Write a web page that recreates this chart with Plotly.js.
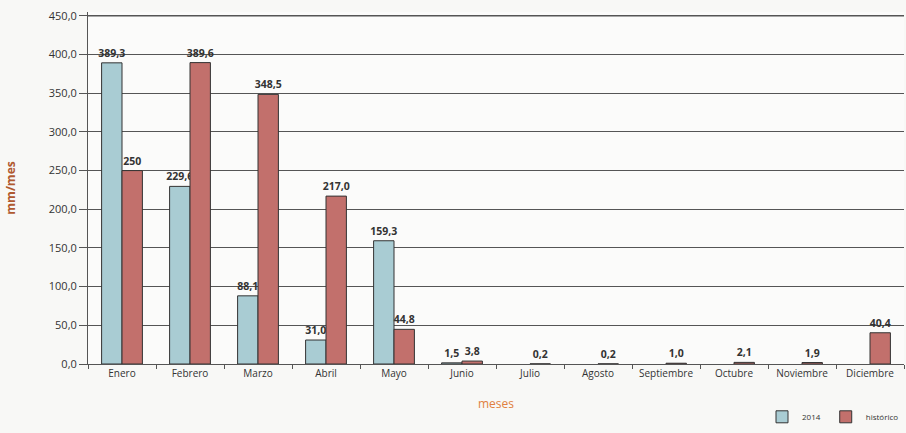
<!DOCTYPE html>
<html>
<head>
<meta charset="utf-8">
<script src="https://cdn.plot.ly/plotly-3.0.1.min.js"></script>
<style>html,body{margin:0;padding:0;background:#f8f8f6;}#chart{width:906px;height:433px;}</style>
</head>
<body>
<div id="chart"></div>
<script>
const meses = ["Enero","Febrero","Marzo","Abril","Mayo","Junio","Julio","Agosto","Septiembre","Octubre","Noviembre","Diciembre"];
const valores2014 = [389.3, 229.6, 88.1, 31.0, 159.3, 1.5, null, null, null, null, null, null];
const valoresHistoricos = [250, 389.6, 348.5, 217.0, 44.8, 3.8, 0.2, 0.2, 1.0, 2.1, 1.9, 40.4];
const etiquetas2014 = ["389,3","229,6","88,1","31,0","159,3","1,5","","","","","",""];
const etiquetasHistoricos = ["250","389,6","348,5","217,0","44,8","3,8","0,2","0,2","1,0","2,1","1,9","40,4"];
const yTicks = [0,50,100,150,200,250,300,350,400,450];

const labelFont = {family: "Open Sans, sans-serif", size: 10.5, color: "#333", weight: "bold"};
const data = [
  {type: "bar", name: "2014", x: meses, y: valores2014, text: etiquetas2014,
   textposition: "outside", textfont: labelFont, outsidetextfont: labelFont,
   constraintext: "none", cliponaxis: false,
   marker: {color: "#a9ccd3", line: {color: "#333", width: 1}}},
  {type: "bar", name: "histórico", x: meses, y: valoresHistoricos, text: etiquetasHistoricos,
   textposition: "outside", textfont: labelFont, outsidetextfont: labelFont,
   constraintext: "none", cliponaxis: false,
   marker: {color: "#c2706c", line: {color: "#333", width: 1}}}
];
const topTick = yTicks[yTicks.length - 1];
const layout = {
  width: 906, height: 433,
  margin: {l: 88, r: 2, t: 12, b: 66},
  paper_bgcolor: "#f8f8f6", plot_bgcolor: "#fbfbfa",
  separators: ",.",
  barmode: "group", bargap: 0.4, bargroupgap: 0,
  font: {family: "Open Sans, sans-serif", size: 10, color: "#333"},
  xaxis: {
    type: "category", tickson: "boundaries", ticks: "outside", ticklen: 4, tickcolor: "#555",
    tickangle: 0,
    showline: true, linecolor: "#555", linewidth: 1, showgrid: false,
    tickfont: {family: "Open Sans, sans-serif", size: 10, color: "#333"},
    title: {text: "meses", font: {family: "Open Sans, sans-serif", size: 12, color: "#e08040"}, standoff: 20}
  },
  yaxis: {
    range: [0, 455], tickvals: yTicks, tickformat: ".1f",
    ticks: "outside", ticklen: 8, tickcolor: "#555",
    showline: true, linecolor: "#555", linewidth: 1,
    showgrid: true, gridcolor: "#555", gridwidth: 1, zeroline: false,
    tickfont: {family: "Open Sans, sans-serif", size: 11, color: "#333"},
    title: {text: "mm/mes", font: {family: "Open Sans, sans-serif", size: 12, color: "#b05a30", weight: "bold"}, standoff: 30}
  },
  shapes: [{type: "line", xref: "paper", yref: "y", x0: 0, x1: 1, y0: topTick, y1: topTick,
    line: {color: "#555", width: 1.5}, layer: "above"}],
  showlegend: true,
  legend: {orientation: "h", x: 1, xanchor: "right", y: -0.15, yanchor: "middle",
    font: {family: "Open Sans, sans-serif", size: 8, color: "#333"}, bgcolor: "rgba(0,0,0,0)",
    itemwidth: 30}
};
Plotly.newPlot("chart", data, layout, {displayModeBar: false});
</script>
</body>
</html>
